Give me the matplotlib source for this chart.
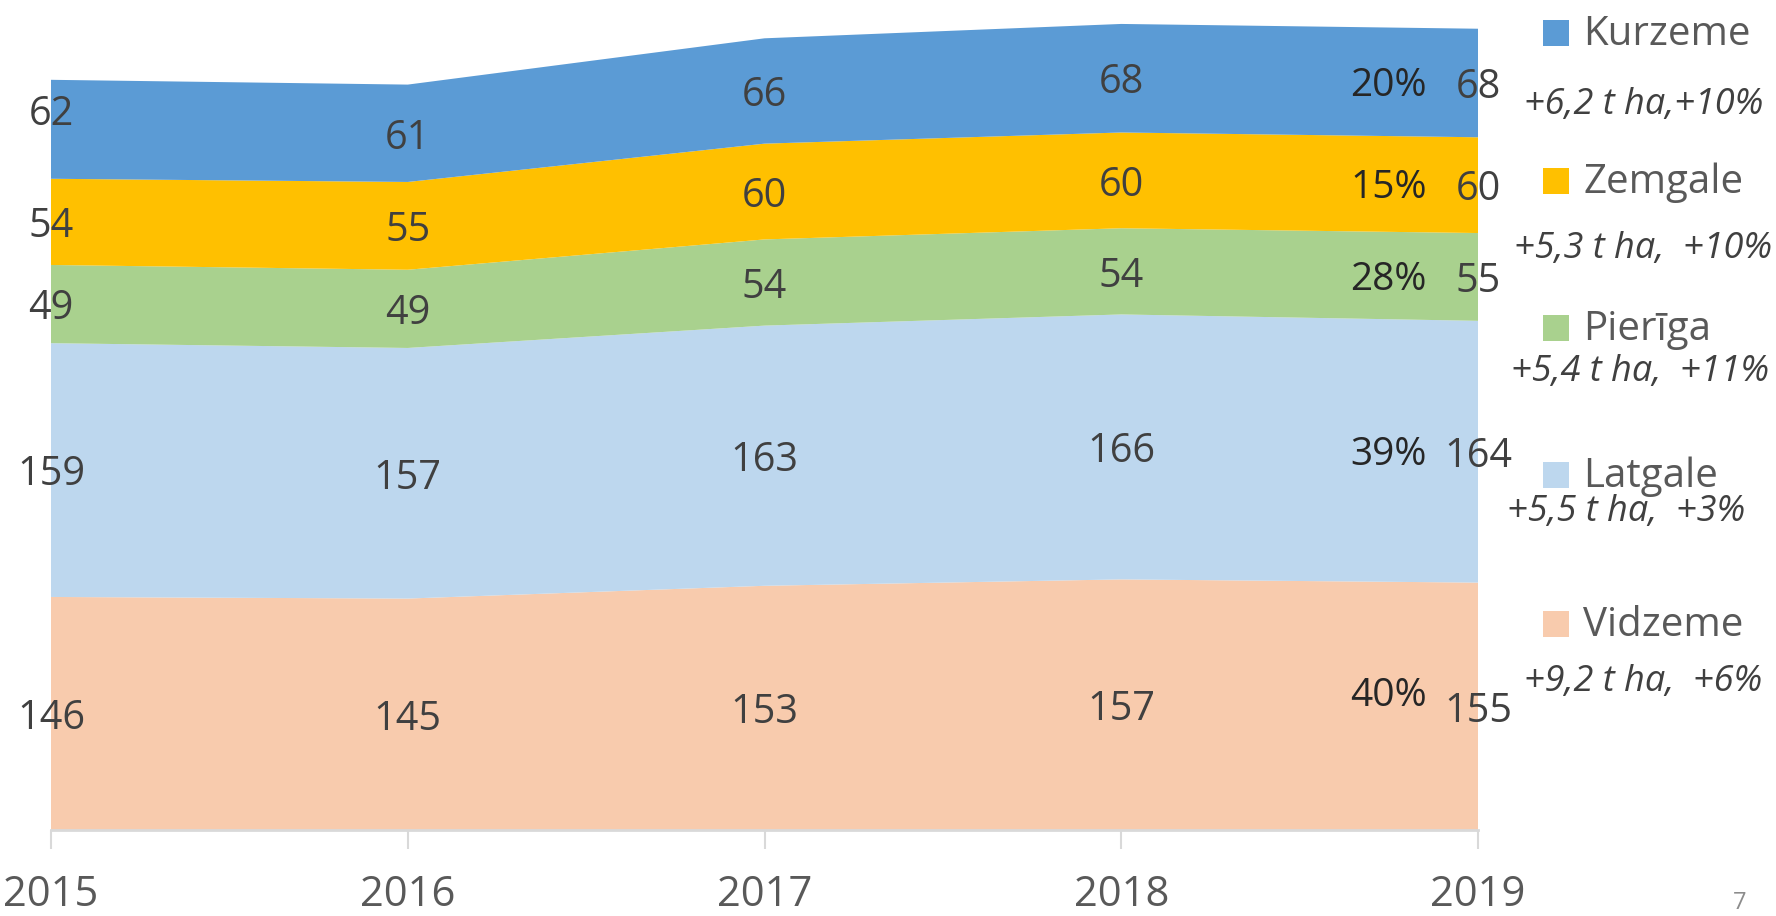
import numpy as np
import matplotlib.pyplot as plt
from matplotlib.patches import Rectangle

plt.rcParams['font.family'] = ['Open Sans', 'DejaVu Sans']

years = [2015, 2016, 2017, 2018, 2019]
regions = ['Vidzeme', 'Latgale', 'Pierīga', 'Zemgale', 'Kurzeme']
vidzeme = [146, 145, 153, 157, 155]
latgale = [159, 157, 163, 166, 164]
pieriga = [49, 49, 54, 54, 55]
zemgale = [54, 55, 60, 60, 60]
kurzeme = [62, 61, 66, 68, 68]
shares = ['40%', '39%', '28%', '15%', '20%']
changes = ['+9,2 t ha,  +6%', '+5,5 t ha,  +3%', '+5,4 t ha,  +11%',
           '+5,3 t ha,  +10%', '+6,2 t ha,+10%']
colors = ['#F8CBAD', '#BDD7EE', '#A9D18E', '#FFC000', '#5B9BD5']

series = [vidzeme, latgale, pieriga, zemgale, kurzeme]
txt = '#404040'

fig = plt.figure(figsize=(17.76, 9.16), dpi=100)
ax = fig.add_axes([51 / 1776, 86 / 916, 1427 / 1776, 830 / 916])
ax.stackplot(years, series, colors=colors, linewidth=0)
ax.set_xlim(2015, 2019)
ax.set_ylim(0, 520)

# value labels in the middle of each band
data = np.array(series, dtype=float)
cum = np.cumsum(data, axis=0)
for i in range(len(regions)):
    for j, yr in enumerate(years):
        mid = cum[i, j] - data[i, j] / 2
        if i == 4 and j == 0:
            mid += 12  # the first Kurzeme label sits higher
        ax.text(yr, mid, str(series[i][j]), ha='center', va='center_baseline',
                fontsize=28.5, color=txt)

# share labels a bit left of 2019
xp = 2018.75
for i in range(len(regions)):
    top = np.interp(xp, years, cum[i])
    bot = top - np.interp(xp, years, data[i])
    ax.text(xp, (top + bot) / 2 + (9 if i == 0 else 0), shares[i],
            ha='center', va='center_baseline', fontsize=28, color='#262626')

for s in ['left', 'top', 'right']:
    ax.spines[s].set_visible(False)
ax.spines['bottom'].set_color('#D9D9D9')
ax.spines['bottom'].set_linewidth(2)
ax.set_yticks([])
ax.set_xticks(years)
ax.set_xticklabels([str(y) for y in years])
ax.tick_params(axis='x', direction='out', length=14, width=1.5, color='#D9D9D9',
               labelsize=30, labelcolor='#595959', pad=18)

# legend on the right, drawn by hand
leg_y = [626, 477, 330, 183, 35]
sub_y = [682, 512, 372, 249, 105]
sub_x = [1643, 1626, 1640, 1643, 1644]
for i in range(len(regions)):
    fig.add_artist(Rectangle((1543 / 1776, 1 - (leg_y[i] + 11) / 916),
                             26 / 1776, 26 / 916, transform=fig.transFigure,
                             facecolor=colors[i], edgecolor='none'))
    fig.text(1583 / 1776, 1 - leg_y[i] / 916, regions[i], ha='left', va='center',
             fontsize=29, color='#595959')
    fig.text(sub_x[i] / 1776, 1 - sub_y[i] / 916, changes[i], ha='center',
             va='center', fontsize=26, style='italic', color=txt)

fig.text(1740 / 1776, 1 - 903 / 916, '7', ha='center', va='center',
         fontsize=17, color='#8C8C8C')

fig.savefig('out.png', dpi=100)
